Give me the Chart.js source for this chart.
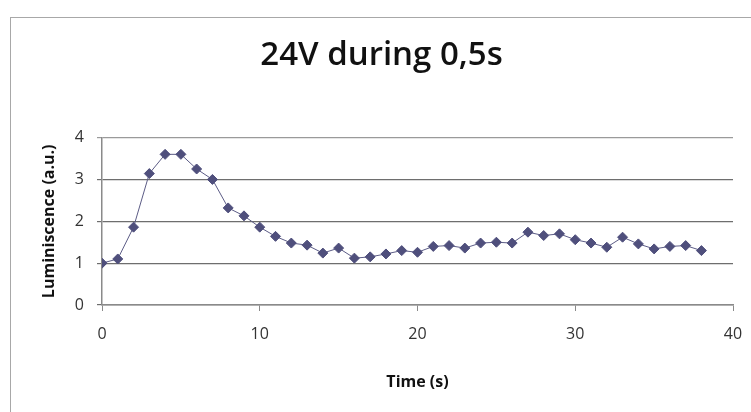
<!DOCTYPE html>
<html>
<head>
<meta charset="utf-8">
<script src="https://cdn.jsdelivr.net/npm/chart.js@4"></script>
<style>
  html, body { margin: 0; padding: 0; background: #fff; }
  .wrap { position: relative; width: 751px; height: 412px; overflow: hidden; }
  .frame { position: absolute; left: 10px; top: 17px; width: 800px; height: 500px; border: 1px solid #a8a8a8; box-sizing: border-box; }
  canvas { position: absolute; left: 0; top: 0; }
</style>
</head>
<body>
<div class="wrap">
  <div class="frame"></div>
  <canvas id="chart" width="751" height="412"></canvas>
</div>
<script>
const times = [0, 1, 2, 3, 4, 5, 6, 7, 8, 9, 10, 11, 12, 13, 14, 15, 16, 17, 18, 19,
  20, 21, 22, 23, 24, 25, 26, 27, 28, 29, 30, 31, 32, 33, 34, 35, 36, 37, 38];
const luminescence = [1.0, 1.1, 1.86, 3.14, 3.6, 3.6, 3.25, 3.0, 2.32, 2.13, 1.86, 1.64, 1.48, 1.43, 1.24, 1.36, 1.12, 1.15, 1.22, 1.3,
  1.26, 1.4, 1.42, 1.36, 1.48, 1.5, 1.48, 1.74, 1.66, 1.7, 1.56, 1.48, 1.38, 1.62, 1.46, 1.34, 1.4, 1.42, 1.3];
const xTicks = [0, 10, 20, 30, 40];
const yTicks = [0, 1, 2, 3, 4];

const points = times.map((t, i) => ({ x: t, y: luminescence[i] }));

const ctx = document.getElementById("chart").getContext("2d");
new Chart(ctx, {
  type: "scatter",
  data: {
    datasets: [
      {
        data: points,
        showLine: true,
        borderColor: "#5c5c86",
        borderWidth: 1,
        pointStyle: "rectRot",
        pointRadius: 5,
        pointBackgroundColor: "#4f4f7c",
        pointBorderColor: "#4f4f7c",
        pointBorderWidth: 1,
      },
    ],
  },
  options: {
    responsive: false,
    animation: false,
    layout: { padding: { left: 30, right: 18, top: 0, bottom: 0 } },
    plugins: {
      legend: { display: false },
      tooltip: { enabled: false },
      title: {
        display: true,
        text: "24V during 0,5s",
        color: "#111",
        font: { family: "Open Sans", size: 33, weight: 600 },
        padding: { top: 36, bottom: 62 },
      },
    },
    scales: {
      x: {
        type: "linear",
        min: xTicks[0],
        max: xTicks[xTicks.length - 1],
        afterBuildTicks: (scale) => { scale.ticks = xTicks.map((v) => ({ value: v })); },
        ticks: { color: "#333", font: { family: "Open Sans", size: 16 }, padding: 14 },
        grid: { drawOnChartArea: false, drawTicks: true, tickLength: 6, color: "#8a8a8a" },
        border: { color: "#8a8a8a", width: 1.5 },
        title: {
          display: true,
          text: "Time (s)",
          color: "#111",
          font: { family: "Open Sans", size: 16, weight: "bold" },
          padding: { top: 0, bottom: 20 },
        },
        afterFit: (scale) => {
          scale.height = 107;
          // let the last tick label hang into the layout padding
          scale.paddingRight = 0;
        },
      },
      y: {
        min: yTicks[0],
        max: yTicks[yTicks.length - 1],
        afterBuildTicks: (scale) => { scale.ticks = yTicks.map((v) => ({ value: v })); },
        ticks: { color: "#333", font: { family: "Open Sans", size: 16 }, padding: 13 },
        grid: {
          color: (c) => (c.tick && c.tick.value === 4 ? "#9a9a9a" : "#6e6e6e"),
          lineWidth: 1.2,
          tickLength: 5,
        },
        border: { color: "#8a8a8a", width: 1.5 },
        title: {
          display: true,
          text: "Luminiscence (a.u.)",
          color: "#111",
          font: { family: "Open Sans", size: 16, weight: "bold" },
          padding: { top: 10, bottom: 0 },
        },
        afterFit: (scale) => { scale.width = 72; },
      },
    },
  },
});
</script>
</body>
</html>
